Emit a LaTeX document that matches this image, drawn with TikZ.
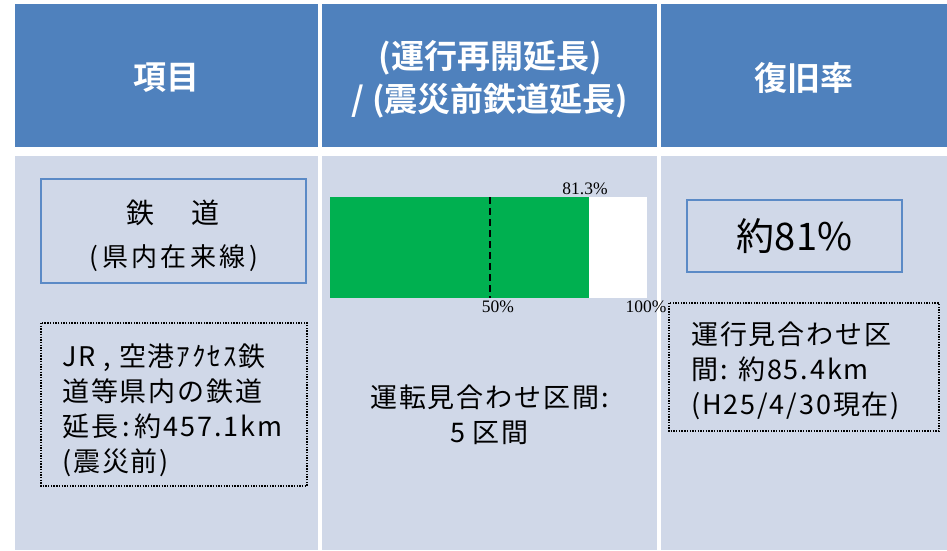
\documentclass[tikz,border=0pt]{standalone}
\usepackage{fontspec}
\setmainfont{Noto Sans CJK JP}
\newfontfamily\jpbold{Noto Sans CJK JP Bold}
\newfontfamily\serifnum{Liberation Serif}
\definecolor{hdrblue}{HTML}{4F81BD}
\definecolor{bodyblue}{HTML}{D0D8E8}
\definecolor{boxblue}{HTML}{5B8AC6}
\definecolor{bargreen}{HTML}{00B050}
\tikzset{
  x=1pt,y=-1pt,
  hdrcell/.style={fill=hdrblue,draw=none},
  bodycell/.style={fill=bodyblue,draw=none},
  hdrtext/.style={text=white,font=\jpbold\fontsize{33}{43}\selectfont,align=center,inner sep=0pt},
  solidbox/.style={draw=boxblue,line width=1.6pt,fill=none},
  dotbox/.style={draw=black,line width=1.3pt,dash pattern=on 1.4pt off 1.3pt,fill=none},
  bodytext/.style={text=black,font=\addfontfeature{LetterSpace=7}\fontsize{27}{35}\selectfont,inner sep=0pt},
  numlabel/.style={text=black,font=\serifnum\fontsize{17.5}{17.5}\selectfont,inner sep=0pt},
}
\begin{document}
\begin{tikzpicture}
\useasboundingbox (0,0) rectangle (947,550);
\fill[white] (0,0) rectangle (947,550);
% header cells
\path[hdrcell] (15,4) rectangle (318,147);
\path[hdrcell] (322,4) rectangle (657,147);
\path[hdrcell] (661,4) rectangle (947,147);
% body cells
\path[bodycell] (15,156) rectangle (318,550);
\path[bodycell] (322,156) rectangle (657,550);
\path[bodycell] (661,156) rectangle (947,550);
% header texts
\node[hdrtext] (h1) at (166.5,78) {項目};
\node[hdrtext] (h2) at (490,79) {(運行再開延長)\\/ (震災前鉄道延長)};
\node[hdrtext] (h3) at (804,78) {復旧率};
% left column
\draw[solidbox] (41,179) rectangle (306,283);
\node[bodytext,font=\fontsize{28}{28}\selectfont] (rail) at (173,213) {鉄\hspace{1.3em}道};
\node[bodytext,font=\addfontfeature{LetterSpace=12}\fontsize{26}{26}\selectfont] (railsub) at (174,258) {(\,県内在来線\,)};
\draw[dotbox] (41,323) rectangle (307,486);
\node[bodytext,anchor=west,align=left] (lefttext) at (62,410) {JR , 空港ｱｸｾｽ鉄\\道等県内の鉄道\\延長\,:\,約457.1km\\(震災前)};
% middle column bar chart
\fill[bargreen] (330,197) rectangle (589,298);
\fill[white] (589,197) rectangle (647,298);
\draw[black,line width=2pt,dash pattern=on 7pt off 4pt] (490,197) -- (490,298);
\node[numlabel] (l813) at (585,189) {81.3\%};
\node[numlabel] (l50) at (498,307) {50\%};
\node[numlabel] (l100) at (646,307) {100\%};
\node[bodytext,align=center] (midtext) at (489.5,415) {運転見合わせ区間:\\5 区間};
% right column
\draw[solidbox] (687,200) rectangle (902,272);
\node[bodytext,font=\fontsize{38}{38}\selectfont] (rate) at (794.5,236) {約81\%};
\draw[dotbox] (669,303) rectangle (939,431);
\node[bodytext,anchor=west,align=left] (righttext) at (691,371) {運行見合わせ区\\間: 約85.4km\\(H25/4/30現在)};
\end{tikzpicture}
\end{document}
